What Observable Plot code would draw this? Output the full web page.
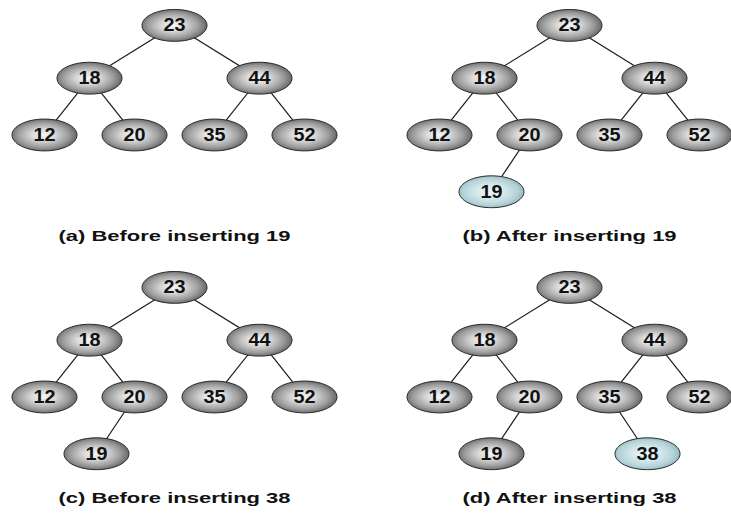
<!DOCTYPE html>
<html>
<head>
<meta charset="utf-8">
<script src="https://cdn.jsdelivr.net/npm/d3@7"></script>
<script src="https://cdn.jsdelivr.net/npm/@observablehq/plot@0.6"></script>
<style>
  html, body { margin: 0; padding: 0; background: #ffffff; }
  #chart svg { display: block; background: #ffffff; }
</style>
</head>
<body>
<div id="chart"></div>
<script>
// ---- data ----
const baseKeys = [23, 18, 44, 12, 20, 35, 52];
const panelIds = ["a", "b", "c", "d"];
const panelCols = ["left", "right", "left", "right"];
const panelRows = ["top", "top", "bottom", "bottom"];
const panelInserts = [[], [19], [19], [19, 38]];
const panelNewKey = [null, 19, null, 38];
const panelCaptions = [
  "(a) Before inserting 19",
  "(b) After inserting 19",
  "(c) Before inserting 38",
  "(d) After inserting 38"
];

// ---- layout constants (within each facet) ----
const rootX = 174;
const levelY = [24, 77, 134, 191];
const spread = [85, 45, 38];
const captionY = 235;

function buildTree(keys) {
  const nodes = [];
  for (const k of keys) {
    if (!nodes.length) { nodes.push({key: k, depth: 0, x: rootX, parent: null}); continue; }
    let cur = nodes[0];
    while (true) {
      const side = k < cur.key ? "left" : "right";
      if (cur[side]) { cur = cur[side]; continue; }
      const n = {key: k, depth: cur.depth + 1, x: cur.x + (side === "left" ? -1 : 1) * spread[cur.depth], parent: cur};
      cur[side] = n; nodes.push(n); break;
    }
  }
  return nodes;
}

const nodes = [], edges = [], captions = [];
panelIds.forEach((id, i) => {
  const col = panelCols[i], row = panelRows[i];
  const tree = buildTree(baseKeys.concat(panelInserts[i]));
  for (const n of tree) {
    nodes.push({panel: id, col, row, key: n.key, x: n.x, y: levelY[n.depth], isNew: n.key === panelNewKey[i]});
    if (n.parent) edges.push({col, row, x1: n.parent.x, y1: levelY[n.parent.depth], x2: n.x, y2: levelY[n.depth]});
  }
  captions.push({col, row, text: panelCaptions[i], x: rootX, y: captionY});
});

// ---- custom ellipse symbol ----
const ellipseSymbol = {
  draw(context, size) {
    const rx = Math.sqrt(size / Math.PI), ry = rx * 0.49, k = 0.5522847498;
    context.moveTo(rx, 0);
    context.bezierCurveTo(rx, ry * k, rx * k, ry, 0, ry);
    context.bezierCurveTo(-rx * k, ry, -rx, ry * k, -rx, 0);
    context.bezierCurveTo(-rx, -ry * k, -rx * k, -ry, 0, -ry);
    context.bezierCurveTo(rx * k, -ry, rx, -ry * k, rx, 0);
    context.closePath();
  }
};

function gradientDefs() {
  const defs = d3.create("svg:defs");
  const add = (id, stops) => {
    const g = defs.append("radialGradient").attr("id", id)
      .attr("cx", "48%").attr("cy", "50%").attr("r", "52%");
    stops.forEach(([o, c]) => g.append("stop").attr("offset", o).attr("stop-color", c));
  };
  add("node-gray", [["0%", "#f7f7f7"], ["35%", "#d8d8d8"], ["75%", "#9c9c9c"], ["100%", "#686868"]]);
  add("node-cyan", [["0%", "#eef7f8"], ["40%", "#d6eaed"], ["80%", "#b4d3d8"], ["100%", "#94bac0"]]);
  return defs.node();
}

const font = "'Liberation Sans', Arial, Helvetica, sans-serif";

const svg = Plot.plot({
  width: 731,
  height: 518,
  margin: 0,
  fx: {domain: ["left", "right"], paddingInner: 0.1494, paddingOuter: 0, axis: null, label: null},
  fy: {domain: ["top", "bottom"], paddingInner: 0.0304, paddingOuter: 0, axis: null, label: null},
  x: {domain: [0, 336], axis: null},
  y: {domain: [0, 255], reverse: true, axis: null},
  marks: [
    gradientDefs,
    Plot.link(edges, {fx: "col", fy: "row", x1: "x1", y1: "y1", x2: "x2", y2: "y2", stroke: "#1a1a1a", strokeWidth: 1.2}),
    Plot.dot(nodes.filter(d => !d.isNew), {fx: "col", fy: "row", x: "x", y: "y", r: 32.5, symbol: ellipseSymbol, fill: "url(#node-gray)", stroke: "#2a2a2a", strokeWidth: 1}),
    Plot.dot(nodes.filter(d => d.isNew), {fx: "col", fy: "row", x: "x", y: "y", r: 32.5, symbol: ellipseSymbol, fill: "url(#node-cyan)", stroke: "#2a2a2a", strokeWidth: 1}),
    Plot.text(nodes, {fx: "col", fy: "row", x: "x", y: "y", text: d => String(d.key), fontSize: 18, fontWeight: "bold", fontFamily: font, fill: "#111", ariaDescription: "nodelabel"}),
    Plot.text(captions, {fx: "col", fy: "row", x: "x", y: "y", text: "text", fontSize: 15.5, fontWeight: "bold", fontFamily: font, fill: "#111", ariaDescription: "caption"})
  ]
});

// horizontally widen the glyphs to match the reference lettering
function stretch(sel, s) {
  d3.select(svg).selectAll(sel).each(function() {
    const t = d3.select(this);
    const tr = t.attr("transform") || "";
    const xa = t.attr("x");
    const x = xa != null && isFinite(+xa) ? +xa : 0;
    if (xa != null && isFinite(+xa)) t.attr("x", null);
    t.attr("transform", `${tr} translate(${x},0) scale(${s},1)`);
  });
}
stretch('g[aria-description="caption"] text', 1.42);
stretch('g[aria-description="nodelabel"] text', 1.1);

document.getElementById("chart").appendChild(svg);
</script>
</body>
</html>
